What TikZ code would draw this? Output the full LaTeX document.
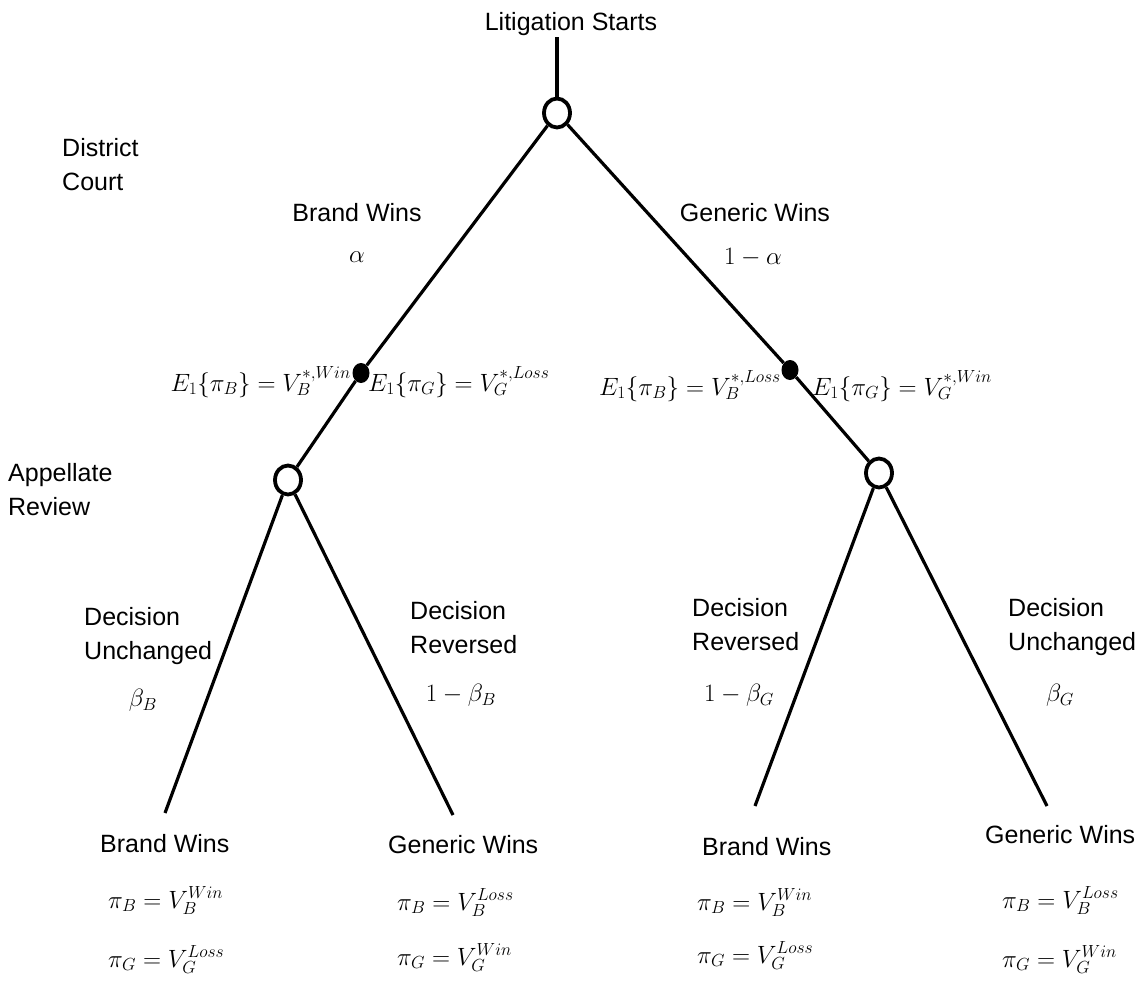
\RequirePackage{fix-cm}
\documentclass[tikz,border=0pt]{standalone}
\usepackage{fontspec}
\setmainfont{Liberation Sans}
\usetikzlibrary{shapes.geometric}
\begin{document}
\begin{tikzpicture}[x=1pt,y=-1pt,
  txt/.style={inner sep=0pt, font=\fontsize{25}{34}\selectfont},
  mth/.style={inner sep=0pt, font=\fontsize{25}{30}\selectfont},
  chance/.style={draw, ellipse, line width=3.8pt, minimum width=26pt, minimum height=29pt, inner sep=0pt},
  info/.style={fill, ellipse, minimum width=17pt, minimum height=20pt, inner sep=0pt},
  branch/.style={line width=3.2pt}]
\useasboundingbox (0,0) rectangle (1143,983);
% tree
\node[txt, anchor=base] (start) at (571,30) {Litigation Starts};
\coordinate (top) at (557,37);
\node[chance] (root) at (557,113) {};
\node[info] (d1) at (361,373) {};
\node[info] (d2) at (790,370) {};
\node[chance] (a1) at (288,480) {};
\node[chance] (a2) at (879,473) {};
\coordinate (l1) at (165,813);
\coordinate (l2) at (453,815);
\coordinate (l3) at (755,806);
\coordinate (l4) at (1047,806);
\draw[branch] (top) -- (root);
\draw[branch] (root) -- (d1) -- (a1);
\draw[branch] (root) -- (d2) -- (a2);
\draw[branch] (a1) -- (l1);
\draw[branch] (a1) -- (l2);
\draw[branch] (a2) -- (l3);
\draw[branch] (a2) -- (l4);
% stage labels
\node[txt, align=left, anchor=west] (dc) at (62,165) {District\\Court};
\node[txt, align=left, anchor=west] (ar) at (8,490) {Appellate\\Review};
% district court branches
\node[txt, anchor=base] (bw) at (357,221) {Brand Wins};
\node[mth] (alpha) at (357,257) {$\alpha$};
\node[txt, anchor=base] (gw) at (755,221) {Generic Wins};
\node[mth] (nalpha) at (753,257) {$1-\alpha$};
% expected payoffs
\node[mth, anchor=base east] (e1) at (351,391) {$E_1\{\pi_B\}=V_B^{*,Win}$};
\node[mth, anchor=base west] (e2) at (368,391) {$E_1\{\pi_G\}=V_G^{*,Loss}$};
\node[mth, anchor=base east] (e3) at (781,395) {$E_1\{\pi_B\}=V_B^{*,Loss}$};
\node[mth, anchor=base west] (e4) at (812,395) {$E_1\{\pi_G\}=V_G^{*,Win}$};
% appellate branches
\node[txt, align=left, anchor=west] (du1) at (84,636) {Decision\\Unchanged};
\node[mth] (bb) at (143,700) {$\beta_B$};
\node[txt, align=left, anchor=west] (dr1) at (410,628) {Decision\\Reversed};
\node[mth] (nbb) at (461,695) {$1-\beta_B$};
\node[txt, align=left, anchor=west] (dr2) at (692,625) {Decision\\Reversed};
\node[mth] (nbg) at (739,695) {$1-\beta_G$};
\node[txt, align=left, anchor=west] (du2) at (1008,627) {Decision\\Unchanged};
\node[mth] (bg) at (1060,695) {$\beta_G$};
% outcomes
\node[txt, anchor=base west] (o1) at (100,852) {Brand Wins};
\node[mth, anchor=base west] (o1b) at (108,908) {$\pi_B=V_B^{Win}$};
\node[mth, anchor=base west] (o1g) at (108,967) {$\pi_G=V_G^{Loss}$};
\node[txt, anchor=base west] (o2) at (388,853) {Generic Wins};
\node[mth, anchor=base west] (o2b) at (397,910) {$\pi_B=V_B^{Loss}$};
\node[mth, anchor=base west] (o2g) at (397,965) {$\pi_G=V_G^{Win}$};
\node[txt, anchor=base west] (o3) at (702,855) {Brand Wins};
\node[mth, anchor=base west] (o3b) at (697,910) {$\pi_B=V_B^{Win}$};
\node[mth, anchor=base west] (o3g) at (697,963) {$\pi_G=V_G^{Loss}$};
\node[txt, anchor=base west] (o4) at (985,843) {Generic Wins};
\node[mth, anchor=base west] (o4b) at (1002,908) {$\pi_B=V_B^{Loss}$};
\node[mth, anchor=base west] (o4g) at (1002,967) {$\pi_G=V_G^{Win}$};
\end{tikzpicture}
\end{document}
